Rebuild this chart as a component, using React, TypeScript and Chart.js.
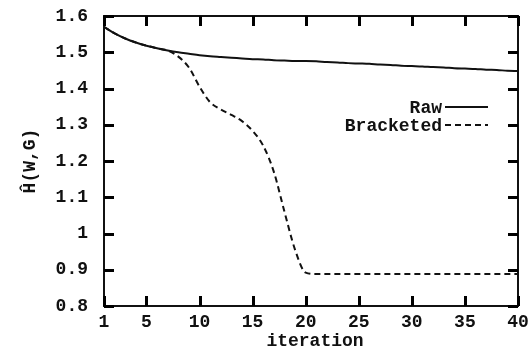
import React, { useEffect, useRef } from "react";
import { Chart, registerables } from "chart.js";

Chart.register(...registerables);

const iterations = [1, 2, 3, 4, 5, 6, 7, 8, 9, 10, 11, 12, 13, 14, 15, 16, 17, 18, 19, 20, 21, 22, 23, 24, 25, 26, 27, 28, 29, 30, 31, 32, 33, 34, 35, 36, 37, 38, 39, 40];
const rawValues = [1.57, 1.552, 1.538, 1.527, 1.518, 1.511, 1.505, 1.5, 1.496, 1.492, 1.489, 1.487, 1.485, 1.483, 1.481, 1.48, 1.478, 1.477, 1.476, 1.476, 1.475, 1.473, 1.472, 1.47, 1.469, 1.468, 1.466, 1.465, 1.463, 1.462, 1.461, 1.459, 1.458, 1.456, 1.455, 1.454, 1.452, 1.451, 1.449, 1.448];
const bracketedValues = [1.57, 1.552, 1.538, 1.527, 1.518, 1.511, 1.505, 1.488, 1.458, 1.405, 1.362, 1.342, 1.327, 1.31, 1.283, 1.242, 1.17, 1.06, 0.955, 0.892, 0.888, 0.888, 0.888, 0.888, 0.888, 0.888, 0.888, 0.888, 0.888, 0.888, 0.888, 0.888, 0.888, 0.888, 0.888, 0.888, 0.888, 0.888, 0.888, 0.888];
const seriesLabels = ["Raw", "Bracketed"];
const xTickValues = [1, 5, 10, 15, 20, 25, 30, 35, 40];
const yTickValues = [0.8, 0.9, 1.0, 1.1, 1.2, 1.3, 1.4, 1.5, 1.6];
const yTickLabels = ["0.8", "0.9", "1", "1.1", "1.2", "1.3", "1.4", "1.5", "1.6"];
const xTitle = "iteration";
const yTitle = "\u0124(W,G)";

const INK = "#111";
const FONT_FAMILY = "'Liberation Mono', 'DejaVu Sans Mono', monospace";
const FONT_SIZE = 18;
const TICK_LEN = 10;

const decorPlugin = {
  id: "decor",
  afterDraw(chart: any) {
    const ctx = chart.ctx;
    const area = chart.chartArea;
    const xs = chart.scales.x;
    const ys = chart.scales.y;
    const left = area.left;
    const right = area.right;
    const top = area.top;
    const bottom = area.bottom;
    ctx.save();
    ctx.setLineDash([]);
    ctx.globalAlpha = 1;
    ctx.strokeStyle = INK;
    ctx.lineWidth = 2;
    ctx.strokeRect(left, top, right - left, bottom - top);
    ctx.fillStyle = "#000000";
    for (const v of xTickValues) {
      const px = Math.round(Number(xs.getPixelForValue(v)));
      ctx.fillRect(px - 1, bottom - TICK_LEN, 3, TICK_LEN);
      ctx.fillRect(px - 1, top, 3, TICK_LEN);
    }
    for (const v of yTickValues) {
      const py = Math.round(Number(ys.getPixelForValue(v)));
      ctx.fillRect(left, py - 1, TICK_LEN, 3);
      ctx.fillRect(right - TICK_LEN, py - 1, TICK_LEN, 3);
    }

    ctx.fillStyle = INK;
    ctx.font = `bold ${FONT_SIZE}px ${FONT_FAMILY}`;
    ctx.textAlign = "center";
    ctx.textBaseline = "alphabetic";
    ctx.fillText(xTitle, (left + right) / 2 + 4, bottom + 40);

    ctx.save();
    ctx.translate(30, (top + bottom) / 2);
    ctx.rotate(-Math.PI / 2);
    ctx.textAlign = "center";
    ctx.textBaseline = "middle";
    ctx.fillText(yTitle, 0, 0);
    ctx.restore();

    const lineEnd = right - 30;
    const lineStart = lineEnd - 43;
    const rows = [top + 91, top + 109];
    chart.data.datasets.forEach((ds: any, i: number) => {
      const y = rows[i];
      ctx.textAlign = "right";
      ctx.textBaseline = "middle";
      ctx.fillStyle = INK;
      ctx.fillText(ds.label, lineStart - 3, y + 1);
      ctx.beginPath();
      ctx.strokeStyle = INK;
      ctx.lineWidth = 2;
      ctx.setLineDash(ds.borderDash || []);
      ctx.moveTo(lineStart, y);
      ctx.lineTo(lineEnd, y);
      ctx.stroke();
    });
    ctx.restore();
  },
};

export default function App() {
  const canvasRef = useRef<HTMLCanvasElement | null>(null);

  useEffect(() => {
    if (!canvasRef.current) return;
    const tickFont = { family: FONT_FAMILY, size: FONT_SIZE, weight: "bold" as const };
    const chart = new Chart(canvasRef.current, {
      type: "line",
      data: {
        datasets: [
          {
            label: seriesLabels[0],
            data: iterations.map((x, i) => ({ x, y: rawValues[i] })),
            borderColor: INK,
            borderWidth: 2,
            pointRadius: 0,
            cubicInterpolationMode: "monotone",
            fill: false,
          },
          {
            label: seriesLabels[1],
            data: iterations.map((x, i) => ({ x, y: bracketedValues[i] })),
            borderColor: INK,
            borderWidth: 2,
            borderDash: [6, 4],
            pointRadius: 0,
            cubicInterpolationMode: "monotone",
            fill: false,
          },
        ],
      },
      options: {
        animation: false,
        responsive: true,
        maintainAspectRatio: false,
        layout: { padding: { top: 16, right: 14, left: 0, bottom: 0 } },
        plugins: { legend: { display: false }, tooltip: { enabled: false } },
        scales: {
          x: {
            type: "linear",
            min: 1,
            max: 40,
            afterBuildTicks: (s: any) => {
              s.ticks = xTickValues.map((v) => ({ value: v }));
            },
            afterFit: (s: any) => {
              s.height = 44;
              s.paddingLeft = 0;
              s.paddingRight = 0;
            },
            grid: { display: false, drawTicks: false },
            border: { display: false },
            ticks: {
              autoSkip: false,
              maxRotation: 0,
              padding: 6,
              color: INK,
              font: tickFont,
            },
          },
          y: {
            type: "linear",
            min: 0.8,
            max: 1.6,
            afterBuildTicks: (s: any) => {
              s.ticks = yTickValues.map((v) => ({ value: v }));
            },
            afterFit: (s: any) => {
              s.width = 104;
              s.paddingTop = 0;
              s.paddingBottom = 0;
            },
            grid: { display: false, drawTicks: false },
            border: { display: false },
            ticks: {
              padding: 16,
              color: INK,
              font: tickFont,
              callback: (v: any) => {
                const idx = yTickValues.findIndex((t) => Math.abs(t - Number(v)) < 1e-6);
                return idx >= 0 ? yTickLabels[idx] : "";
              },
            },
          },
        },
      },
      plugins: [decorPlugin],
    } as any);
    return () => chart.destroy();
  }, []);

  return (
    <div style={{ position: "fixed", left: 0, top: 0, width: 532, height: 350, background: "#fff" }}>
      <canvas ref={canvasRef} />
    </div>
  );
}
